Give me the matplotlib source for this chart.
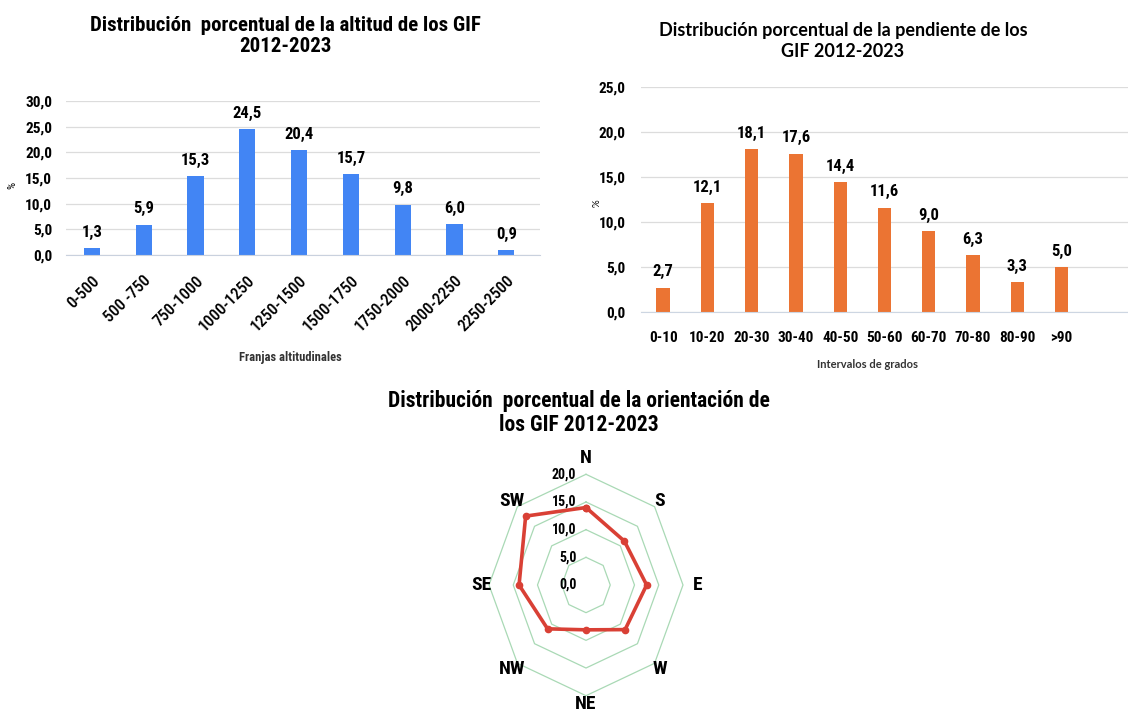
import numpy as np
import matplotlib
matplotlib.use("Agg")
import matplotlib.pyplot as plt
from matplotlib import font_manager

# altitude bands (%)
alt_labels = ["0-500", "500 -750", "750-1000", "1000-1250", "1250-1500",
              "1500-1750", "1750-2000", "2000-2250", "2250-2500"]
alt_values = [1.3, 5.9, 15.3, 24.5, 20.4, 15.7, 9.8, 6.0, 0.9]

# slope intervals (%)
slope_labels = ["0-10", "10-20", "20-30", "30-40", "40-50",
                "50-60", "60-70", "70-80", "80-90", ">90"]
slope_values = [2.7, 12.1, 18.1, 17.6, 14.4, 11.6, 9.0, 6.3, 3.3, 5.0]

# orientation (%)
orient_labels = ["N", "S", "E", "W", "NE", "NW", "SE", "SW"]
orient_values = [14.0, 11.2, 12.5, 11.4, 8.1, 11.2, 13.8, 17.6]
radar_rings = [5, 10, 15, 20]

installed = {f.name for f in font_manager.fontManager.ttflist}


def pick(cands):
    got = [f for f in cands if f in installed]
    return (got[:1] or []) + ["DejaVu Sans"]


narrow = pick(["Arial Narrow", "Liberation Sans Narrow", "Roboto Condensed",
               "Archivo Narrow", "PT Sans Narrow", "Asap Condensed", "Roboto"])
wide = pick(["Aptos", "Lato", "Open Sans"])

W, H = 1128, 722
fig = plt.figure(figsize=(W / 100, H / 100), dpi=100)


def px_axes(x0, x1, y_top, y_bot, **kw):
    return fig.add_axes([x0 / W, 1 - y_bot / H, (x1 - x0) / W, (y_bot - y_top) / H], **kw)


def comma(v):
    return f"{v:.1f}".replace(".", ",")


def style_bar_axes(ax, base):
    for s in ["top", "right", "left"]:
        ax.spines[s].set_visible(False)
    ax.spines["bottom"].set_color(base)
    ax.grid(axis="y", color="#dcdcdc", linewidth=0.9)
    ax.set_axisbelow(True)
    ax.tick_params(axis="both", length=0)


# --- altitude ---
ax1 = px_axes(66, 540, 101, 255)
x1 = np.arange(len(alt_values))
ax1.bar(x1, alt_values, width=0.31, color="#4285f4")
ax1.set_xlim(-0.5, len(alt_values) - 0.35)
ax1.set_ylim(0, 30)
ax1.set_yticks(np.arange(0, 31, 5))
ax1.set_yticklabels([comma(v) for v in np.arange(0, 31, 5)],
                    family=narrow, fontweight="bold", fontsize=11)
ax1.set_xticks(x1)
ax1.set_xticklabels(alt_labels, rotation=45, ha="right", rotation_mode="anchor",
                    family=narrow, fontweight="medium", fontsize=12)
ax1.tick_params(axis="x", pad=13)
ax1.tick_params(axis="y", pad=10)
style_bar_axes(ax1, "#c9d1de")
for xi, v in zip(x1, alt_values):
    ax1.annotate(comma(v), (xi, v), xytext=(0, 6), textcoords="offset points",
                 ha="center", va="bottom", family=narrow, fontweight="bold", fontsize=12)
fig.text(12 / W, 1 - 185 / H, "%", rotation=90, ha="center", va="center",
         family=narrow, fontsize=8)
fig.text(290 / W, 1 - 358 / H, "Franjas altitudinales", ha="center", va="center",
         family=narrow, fontweight="bold", fontsize=9, color="#333333")
fig.text(285 / W, 1 - 36 / H, "Distribución  porcentual de la altitud de los GIF\n2012-2023",
         ha="center", va="center", family=narrow, fontweight="bold", fontsize=15,
         linespacing=1.1)

# --- slope ---
ax2 = px_axes(641, 1128, 87, 312)
x2 = np.arange(len(slope_values))
ax2.bar(x2, slope_values, width=0.3, color="#eb7433")
ax2.set_xlim(-0.5, len(slope_values) + 0.5)
ax2.set_ylim(0, 25)
ax2.set_yticks(np.arange(0, 26, 5))
ax2.set_yticklabels([comma(v) for v in np.arange(0, 26, 5)],
                    family=narrow, fontweight="bold", fontsize=11)
ax2.set_xticks(x2)
ax2.set_xticklabels(slope_labels, family=narrow, fontweight="bold", fontsize=11)
ax2.tick_params(axis="x", pad=14)
ax2.tick_params(axis="y", pad=11)
style_bar_axes(ax2, "#cdd6e2")
for xi, v in zip(x2, slope_values):
    ax2.annotate(comma(v), (xi, v), xytext=(0, 6), textcoords="offset points",
                 ha="center", va="bottom", family=narrow, fontweight="bold", fontsize=12)
fig.text(597 / W, 1 - 203 / H, "%", rotation=90, ha="center", va="center",
         family=wide, fontsize=7)
fig.text(868 / W, 1 - 365 / H, "Intervalos de grados", ha="center", va="center",
         family=wide, fontweight="bold", fontsize=8, color="#333333")
fig.text(843 / W, 1 - 41 / H, "Distribución porcentual de la pendiente de los\nGIF 2012-2023",
         ha="center", va="center", family=wide, fontweight="bold", fontsize=13,
         linespacing=1.3)

# --- orientation radar ---
cx, cy, rx, ry = 586, 585, 97, 110.7
ax3 = px_axes(cx - rx, cx + rx, cy - ry, cy + ry, projection="polar")
ax3.set_aspect("auto")
ax3.set_theta_zero_location("N")
ax3.set_theta_direction(-1)
ax3.set_ylim(0, 20)
ax3.axis("off")
theta = np.linspace(0, 2 * np.pi, len(orient_labels), endpoint=False)
closed = np.append(theta, theta[0])
for r in radar_rings:
    ax3.plot(closed, [r] * len(closed), color="#a9d9b5", linewidth=0.9, clip_on=False)
vals = np.append(orient_values, orient_values[0])
ax3.plot(closed, vals, color="#d94035", linewidth=2.6, marker="o", markersize=4.5,
         clip_on=False, zorder=3)
for r in [0] + radar_rings:
    ax3.annotate(comma(r), (0, r), xytext=(-7, 0), textcoords="offset points",
                 ha="right", va="center", family=narrow, fontweight="bold", fontsize=10)
for t, lab in zip(theta, orient_labels):
    rr = 21.5 if len(lab) == 2 or lab in ("S", "W") else 23
    ax3.text(t, rr, lab, ha="center", va="center", family=narrow,
             fontweight="bold", fontsize=14)
fig.text(579 / W, 1 - 413 / H, "Distribución  porcentual de la orientación de\nlos GIF 2012-2023",
         ha="center", va="center", family=narrow, fontweight="bold", fontsize=15.5,
         linespacing=1.1)

fig.savefig("out.png", dpi=100, facecolor="white")
